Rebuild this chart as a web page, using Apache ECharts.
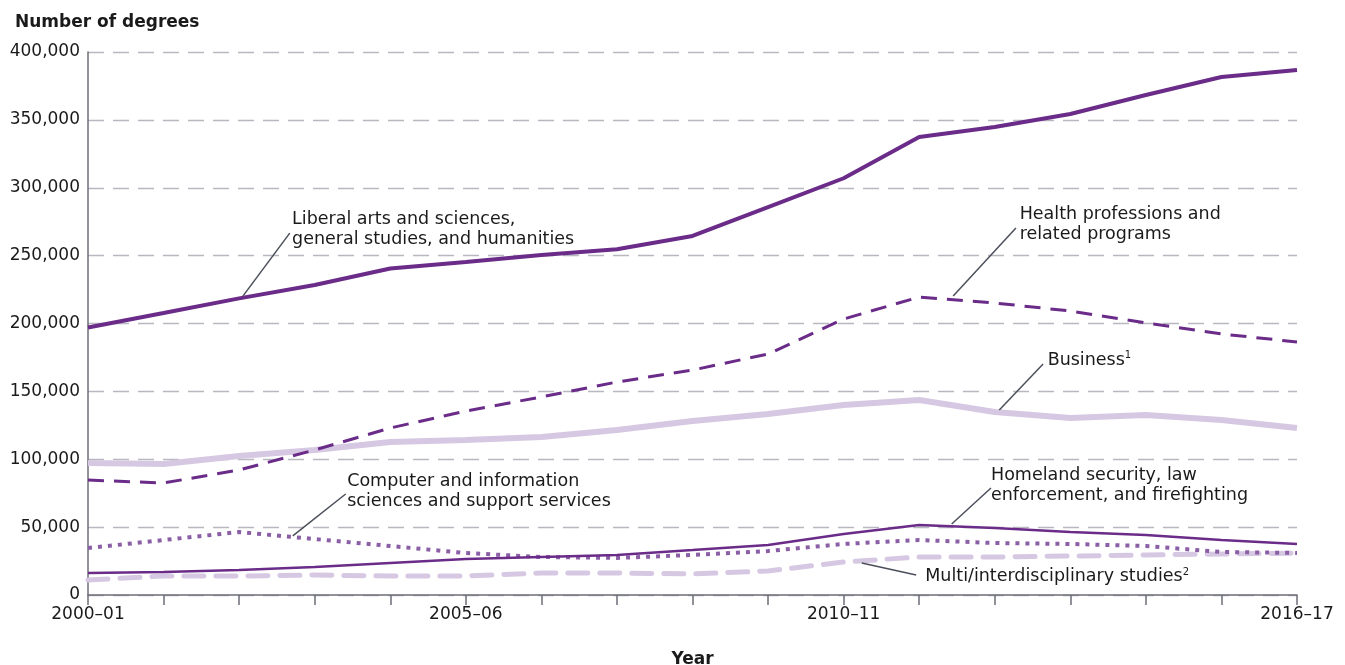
<!DOCTYPE html>
<html>
<head>
<meta charset="utf-8">
<script src="https://cdn.jsdelivr.net/npm/echarts@6/dist/echarts.min.js"></script>
<style>
html,body{margin:0;padding:0;background:#fff;}
#chart{width:1345px;height:665px;}
</style>
</head>
<body>
<div id="chart"></div>
<script>
const categories = ['2000–01','2001–02','2002–03','2003–04','2004–05','2005–06','2006–07','2007–08','2008–09','2009–10','2010–11','2011–12','2012–13','2013–14','2014–15','2015–16','2016–17'];
const tickLabels = ['2000–01','2005–06','2010–11','2016–17'];
const yTicks = [0,50000,100000,150000,200000,250000,300000,350000,400000];

const liberalArts = [197000,207700,218500,228400,240500,245300,250500,254700,264500,285800,307000,337400,344800,354300,368300,381600,386700];
const health      = [84700,82500,92100,106800,123000,135500,145900,156900,165700,177500,203300,219500,215100,209200,200400,192300,186400];
const business    = [97200,96500,102400,106800,112700,114200,116400,121500,128200,133300,140000,143600,134800,130400,132600,128900,123000];
const computer    = [34600,40500,46400,41200,36100,30900,28000,27300,29500,32400,37600,40500,38300,37600,36100,31700,31000];
const homeland    = [16200,16900,18400,20600,23600,26500,28000,29500,33100,36800,44900,51600,49400,46400,44200,40500,37600];
const multi       = [11000,14000,14000,14700,14000,14000,16200,16200,15500,17700,24300,28000,28000,28700,29500,30200,30900];

const seriesNames = ['Liberal arts and sciences, general studies, and humanities','Health professions and related programs','Business','Computer and information sciences and support services','Homeland security, law enforcement, and firefighting','Multi/interdisciplinary studies'];

// annotation: label text, label anchor (first-line centre) [x index, y value], leader from, leader to
const annotations = [
  {text:'Liberal arts and sciences,\ngeneral studies, and humanities', at:[2.70,277000], from:[2.05,220200], to:[2.67,266600]},
  {text:'Health professions and\nrelated programs', at:[12.33,280000], from:[11.45,220200], to:[12.28,270300]},
  {text:'Business{s|1}', at:[12.70,173000], from:[12.06,136300], to:[12.64,170200]},
  {text:'Computer and information\nsciences and support services', at:[3.43,83300], from:[2.71,43500], to:[3.41,74400]},
  {text:'Homeland security, law\nenforcement, and firefighting', at:[11.95,87700], from:[11.43,52300], to:[11.95,78800]},
  {text:'Multi/interdisciplinary studies{s|2}', at:[11.08,13300], from:[10.24,23600], to:[10.96,14700]}
];

const FONT = 'DejaVu Sans';
const LH = 20;
const toXY = arr => arr.map((v,i)=>[i,v]);

const chart = echarts.init(document.getElementById('chart'), null, {renderer:'canvas'});
const option = {
  animation:false,
  backgroundColor:'#fff',
  grid:{left:88,right:48,top:52,bottom:70,containLabel:false,outerBoundsMode:'none'},
  xAxis:{
    type:'value', min:0, max:categories.length-1, interval:1,
    name:'Year', nameLocation:'middle', nameGap:56,
    nameTextStyle:{fontFamily:FONT,fontWeight:'bold',fontSize:17,color:'#1a1a1a'},
    axisLine:{show:true,lineStyle:{color:'#6d6e78',width:1.5}},
    axisTick:{show:true,length:10,lineStyle:{color:'#6d6e78',width:1.5}},
    axisLabel:{fontFamily:FONT,fontSize:17,color:'#1a1a1a',margin:11,
      formatter:v=>{const c=categories[Math.round(v)];return tickLabels.indexOf(c)>=0?c:'';}},
    splitLine:{show:false}
  },
  yAxis:{
    type:'value', min:0, max:400000, interval:50000,
    axisLine:{show:true,lineStyle:{color:'#6d6e78',width:1.5}},
    axisTick:{show:false},
    axisLabel:{fontFamily:FONT,fontSize:17,color:'#1a1a1a',margin:8,
      formatter:v=>yTicks.indexOf(v)>=0?v.toLocaleString('en-US'):''},
    splitLine:{show:true,lineStyle:{color:'#b8b9c0',type:[16,9],width:1.3}}
  },
  title:{text:'Number of degrees',left:10,top:9,textStyle:{fontFamily:FONT,fontWeight:'bold',fontSize:17,color:'#1a1a1a'}},
  series:[
    {name:seriesNames[5],type:'line',data:toXY(multi),symbol:'none',z:2,lineStyle:{color:'#d6c8e2',width:5,type:[20,12],cap:'round'}},
    {name:seriesNames[2],type:'line',data:toXY(business),symbol:'none',z:3,lineStyle:{color:'#d6c8e2',width:6}},
    {name:seriesNames[3],type:'line',data:toXY(computer),symbol:'none',z:4,lineStyle:{color:'#8b5fa5',width:4,type:[4,6]}},
    {name:seriesNames[4],type:'line',data:toXY(homeland),symbol:'none',z:5,lineStyle:{color:'#6a2c88',width:2.5}},
    {name:seriesNames[1],type:'line',data:toXY(health),symbol:'none',z:5,lineStyle:{color:'#6a2c88',width:3,type:[16,10]}},
    {name:seriesNames[0],type:'line',data:toXY(liberalArts),symbol:'none',z:6,lineStyle:{color:'#6a2c88',width:4}}
  ]
};
chart.setOption(option);

const graphics = [];
annotations.forEach(a=>{
  const p = chart.convertToPixel({gridIndex:0}, a.at);
  const f = chart.convertToPixel({gridIndex:0}, a.from);
  const t = chart.convertToPixel({gridIndex:0}, a.to);
  graphics.push({type:'line',shape:{x1:f[0],y1:f[1],x2:t[0],y2:t[1]},style:{stroke:'#4a4f5a',lineWidth:1.5},z:10});
  graphics.push({type:'text',x:p[0],y:p[1]-LH/2,z:11,style:{
    text:a.text,fontFamily:FONT,fontSize:17.5,fill:'#1a1a1a',lineHeight:LH,
    textAlign:'left',textVerticalAlign:'top',
    rich:{s:{fontSize:10,verticalAlign:'top',lineHeight:LH,padding:[0,0,8,0],fontFamily:FONT,fill:'#1a1a1a'}}
  }});
});
chart.setOption({graphic:graphics});
</script>
</body>
</html>
